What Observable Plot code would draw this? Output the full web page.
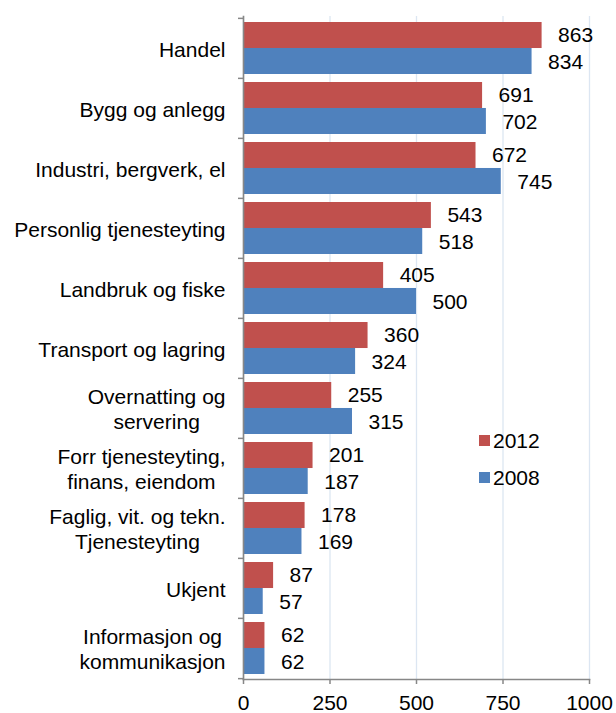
<!DOCTYPE html>
<html>
<head>
<meta charset="utf-8">
<script src="https://cdn.jsdelivr.net/npm/d3@7"></script>
<script src="https://cdn.jsdelivr.net/npm/@observablehq/plot@0.6"></script>
<style>
  body { margin: 0; background: #fff; font-family: "Liberation Sans", Arial, sans-serif; }
  #wrap { position: relative; width: 616px; height: 713px; }
  .legend { position: absolute; left: 479px; top: 430px; font-size: 21px; color: #000; }
  .legend .row { position: relative; height: 37px; line-height: 21px; }
  .legend .sw { position: absolute; left: 0; top: 5px; width: 11px; height: 11px; }
  .legend .lb { position: absolute; left: 14px; top: 0; }
</style>
</head>
<body>
<div id="wrap"></div>
<script>
const categories = [
  "Handel",
  "Bygg og anlegg",
  "Industri, bergverk, el",
  "Personlig tjenesteyting",
  "Landbruk og fiske",
  "Transport og lagring",
  "Overnatting og\nservering",
  "Forr tjenesteyting,\nfinans, eiendom",
  "Faglig, vit. og tekn.\nTjenesteyting",
  "Ukjent",
  "Informasjon og\nkommunikasjon"
];
const values2012 = [863, 691, 672, 543, 405, 360, 255, 201, 178, 87, 62];
const values2008 = [834, 702, 745, 518, 500, 324, 315, 187, 169, 57, 62];
const seriesNames = ["2012", "2008"];
const seriesColors = ["#C0504D", "#4F81BD"];
const xTicks = [0, 250, 500, 750, 1000];

const W = 616, H = 713, mt = 16, mb = 34, ml = 243, mr = 27;
const pInner = 0.138, pOuter = 0.069;
const step = (H - mt - mb) / (categories.length - pInner + 2 * pOuter);
const bw = step * (1 - pInner);
const half = bw / 2;
const font = "'Liberation Sans', Arial, sans-serif";
const axisGray = "#878787";

const rows = categories.map((c, i) => ({cat: c, v2012: values2012[i], v2008: values2008[i]}));

const plot = Plot.plot({
  width: W,
  height: H,
  marginTop: mt,
  marginBottom: mb,
  marginLeft: ml,
  marginRight: mr,
  style: {fontFamily: font, fontSize: "21px", color: "#000", background: "#fff", overflow: "visible"},
  x: {domain: [0, 1000]},
  y: {domain: categories, paddingInner: pInner, paddingOuter: pOuter},
  marks: [
    Plot.gridX(xTicks, {stroke: "#dce6f2", strokeOpacity: 1, strokeWidth: 1.3}),
    Plot.barX(rows, {x: "v2012", y: "cat", fill: seriesColors[0], insetBottom: half}),
    Plot.barX(rows, {x: "v2008", y: "cat", fill: seriesColors[1], insetTop: half}),
    Plot.text(rows, {x: "v2012", y: "cat", text: d => String(d.v2012), dy: -half / 2, dx: 16,
      textAnchor: "start", lineAnchor: "middle", fontSize: 21, fill: "#000"}),
    Plot.text(rows, {x: "v2008", y: "cat", text: d => String(d.v2008), dy: half / 2 + 1, dx: 16,
      textAnchor: "start", lineAnchor: "middle", fontSize: 21, fill: "#000"}),
    Plot.frame({anchor: "left", stroke: axisGray, strokeWidth: 1.6}),
    Plot.frame({anchor: "bottom", stroke: axisGray, strokeWidth: 1.6}),
    Plot.axisY({tickSize: 0, tickPadding: 18, fontSize: 21, lineHeight: 1.19, fill: "#000", label: null}),
    Plot.axisY({tickSize: 5, tickFormat: () => "", dy: -step / 2, stroke: axisGray, strokeWidth: 1.5, label: null}),
    Plot.axisY([categories[categories.length - 1]], {tickSize: 5, tickFormat: () => "", dy: step / 2, stroke: axisGray, strokeWidth: 1.5, label: null}),
    Plot.axisX(xTicks, {tickSize: 5, tickPadding: 11, fontSize: 21, tickFormat: d3.format("d"), stroke: axisGray, strokeWidth: 1.5, fill: "#000", label: null})
  ]
});

const wrap = document.getElementById("wrap");
wrap.appendChild(plot);

// center multi-line category labels as a block, right-aligned to the axis
plot.querySelectorAll("text").forEach(t => {
  const spans = t.querySelectorAll("tspan");
  if (spans.length > 1) {
    let w = 0;
    spans.forEach(s => { w = Math.max(w, s.getComputedTextLength()); });
    t.setAttribute("text-anchor", "middle");
    spans.forEach(s => { s.setAttribute("x", -w / 2); });
  }
});

// legend
const legend = document.createElement("div");
legend.className = "legend";
seriesNames.forEach((name, i) => {
  const row = document.createElement("div");
  row.className = "row";
  const sw = document.createElement("div");
  sw.className = "sw";
  sw.style.background = seriesColors[i];
  const lb = document.createElement("div");
  lb.className = "lb";
  lb.textContent = name;
  row.appendChild(sw);
  row.appendChild(lb);
  legend.appendChild(row);
});
wrap.appendChild(legend);
</script>
</body>
</html>
